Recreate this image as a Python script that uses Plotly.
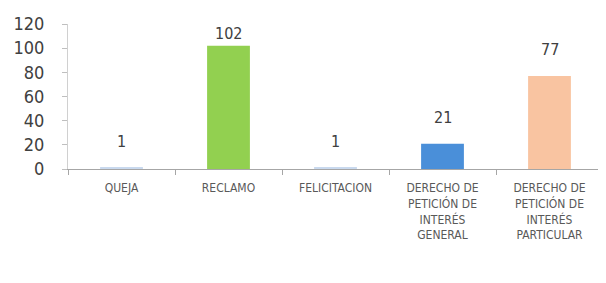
import plotly.graph_objects as go

categories = ["QUEJA", "RECLAMO", "FELICITACION",
              "DERECHO DE<br>PETICIÓN DE<br>INTERÉS<br>GENERAL",
              "DERECHO DE<br>PETICIÓN DE<br>INTERÉS<br>PARTICULAR"]
values = [1, 102, 1, 21, 77]
colors = ["#C9D9EE", "#92D050", "#C9D9EE", "#4A8FD9", "#F9C4A1"]
y_ticks = [0, 20, 40, 60, 80, 100, 120]

fig = go.Figure()
fig.add_trace(go.Bar(x=categories, y=values, marker=dict(color=colors, line=dict(width=0)),
                     width=0.4, showlegend=False))

for c, v in zip(categories, values):
    fig.add_annotation(x=c, y=min(v + 21.5, 112.5), text=str(v), showarrow=False,
                       xref="x", yref="y",
                       font=dict(family="DejaVu Sans Condensed", size=16, color="#404040"))

fig.update_layout(
    width=606, height=283,
    margin=dict(l=60, r=11, t=16, b=122),
    paper_bgcolor="white", plot_bgcolor="white",
    bargap=0.6,
    xaxis=dict(showline=True, linecolor="#A6A6A6", linewidth=1, ticks="outside",
               tickson="boundaries", ticklen=5, tickcolor="#A6A6A6",
               ticklabelstandoff=8, automargin=False,
               tickfont=dict(family="DejaVu Sans Condensed", size=12, color="#595959"),
               tickangle=0),
    yaxis=dict(range=[0, 120], tickvals=y_ticks, showgrid=False, showline=True,
               linecolor="#D0D0D0", linewidth=1, ticks="outside", ticklen=5,
               tickcolor="#BFBFBF", zeroline=False, ticklabelstandoff=14,
               automargin=False,
               tickfont=dict(family="DejaVu Sans Condensed", size=18, color="#404040")),
)

fig.write_html("out.html")
